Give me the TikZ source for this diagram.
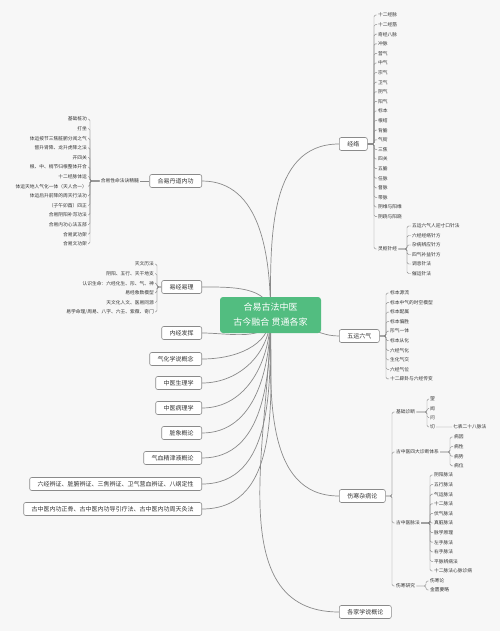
\documentclass[tikz,border=0pt]{standalone}
\usepackage{fontspec}
\setmainfont{Noto Sans CJK SC}
\usetikzlibrary{backgrounds}
\definecolor{bgc}{HTML}{F7F7F7}
\definecolor{lnc}{HTML}{8A8A8A}
\definecolor{rootc}{HTML}{52BD80}
\definecolor{txc}{HTML}{333333}
\pgfdeclarelayer{bgl}\pgfdeclarelayer{lnl}\pgfsetlayers{bgl,lnl,main}
\tikzset{
 rootbox/.style={fill=rootc, rounded corners=3pt, text=white, font=\fontsize{9}{15}\selectfont, align=center, minimum width=101pt, minimum height=36pt, inner sep=0pt},
 mainbox/.style={draw=lnc, line width=0.6pt, fill=white, rounded corners=2pt, text=txc, font=\fontsize{6}{7}\selectfont, inner xsep=8pt, inner ysep=0pt, minimum height=13pt},
 leaf/.style={text=txc, font=\fontsize{4.75}{5.5}\selectfont, inner xsep=1pt, inner ysep=0.5pt},
 leafR/.style={leaf, anchor=west},
 leafL/.style={leaf, anchor=east},
 rootln/.style={draw=lnc, line width=0.7pt},
 subln/.style={draw=lnc, line width=0.45pt, rounded corners=1.5pt},
}
\begin{document}
\begin{tikzpicture}[x=1pt,y=-1pt]
\begin{pgfonlayer}{bgl}
\fill[bgc] (0,0) rectangle (500,631);
\end{pgfonlayer}
\useasboundingbox (0,0) rectangle (500,631);

% root
\node[rootbox] (root) at (270.5,315) {合易古法中医\\古今融合 贯通各家};

% left main nodes
\node[mainbox, anchor=east] (hydd) at (202,181) {合易丹道内功};
\node[mainbox, anchor=east] (yjyl) at (202,287) {易经易理};
\node[mainbox, anchor=east] (njfh) at (202,333) {内经发挥};
\node[mainbox, anchor=east] (qhxs) at (202,359) {气化学说概念};
\node[mainbox, anchor=east] (zysl) at (202,383) {中医生理学};
\node[mainbox, anchor=east] (zybl) at (202,408) {中医病理学};
\node[mainbox, anchor=east] (zxgl) at (202,433) {脏象概论};
\node[mainbox, anchor=east] (qxjj) at (202,458) {气血精津液概论};
\node[mainbox, anchor=east] (ljbz) at (202,484) {六经辨证、脏腑辨证、三焦辨证、卫气营血辨证、八纲定性};
\node[mainbox, anchor=east] (gzyn) at (202,509) {古中医内功正骨、古中医内功导引疗法、古中医内功周天灸法};

% right main nodes
\node[mainbox, anchor=west] (jl) at (339,144) {经络};
\node[mainbox, anchor=west] (wyl) at (339,336) {五运六气};
\node[mainbox, anchor=west] (shz) at (339,496) {伤寒杂病论};
\node[mainbox, anchor=west] (gj) at (339,612) {各家学说概论};

% root connectors
\begin{pgfonlayer}{lnl}
\draw[rootln] (root.center) to[out=90,in=0] (hydd.east);
\draw[rootln] (root.center) to[out=90,in=0] (yjyl.east);
\draw[rootln] (root.center) to[out=270,in=0] (njfh.east);
\draw[rootln] (root.center) to[out=270,in=0] (qhxs.east);
\draw[rootln] (root.center) to[out=270,in=0] (zysl.east);
\draw[rootln] (root.center) to[out=270,in=0] (zybl.east);
\draw[rootln] (root.center) to[out=270,in=0] (zxgl.east);
\draw[rootln] (root.center) to[out=270,in=0] (qxjj.east);
\draw[rootln] (root.center) to[out=270,in=0] (ljbz.east);
\draw[rootln] (root.center) to[out=270,in=0] (gzyn.east);
\draw[rootln] (root.center) to[out=90,in=180] (jl.west);
\draw[rootln] (root.center) to[out=0,in=180] (wyl.west);
\draw[rootln] (root.center) to[out=270,in=180] (shz.west);
\draw[rootln] (root.center) to[out=270,in=180] (gj.west);
\end{pgfonlayer}

% ===== 经络 =====
\coordinate (vjl) at (374,0);
\foreach \t [count=\i from 0] in {十二经脉,十二经筋,奇经八脉,冲脉,营气,中气,宗气,卫气,阴气,阳气,标本,根结,背腧,气街,三焦,四关,五腧,任脉,督脉,带脉,阴维与阳维,阴跷与阳跷}{
  \node[leafR] (jl-\i) at (377,{15+9.6*\i}) {\t};
  \begin{pgfonlayer}{lnl}\draw[subln] (jl.east) -- (jl.east -| vjl) |- (jl-\i.west);\end{pgfonlayer}
}
\node[leafR] (lszj) at (377,249) {灵枢针经};
\begin{pgfonlayer}{lnl}\draw[subln] (jl.east) -- (jl.east -| vjl) |- (lszj.west);\end{pgfonlayer}
\coordinate (vls) at (407,0);
\foreach \t [count=\i from 0] in {五运六气人迎寸口针法,六经经络针方,杂病辨应针方,四气补益针方,调息针法,催运针法}{
  \node[leafR] (ls-\i) at (411,{226+9.5*\i}) {\t};
  \begin{pgfonlayer}{lnl}\draw[subln] (lszj.east) -- (lszj.east -| vls) |- (ls-\i.west);\end{pgfonlayer}
}

% ===== 五运六气 =====
\coordinate (vwy) at (386,0);
\foreach \t [count=\i from 0] in {标本源流,标本中气的时空模型,标本配属,标本偏胜,形气一体,标本从化,六经气化,生化气交,六经气位,十二辟卦与六经传变}{
  \node[leafR] (wy-\i) at (389,{293+9.55*\i}) {\t};
  \begin{pgfonlayer}{lnl}\draw[subln] (wyl.east) -- (wyl.east -| vwy) |- (wy-\i.west);\end{pgfonlayer}
}

% ===== 伤寒杂病论 =====
\coordinate (vsh) at (392,0);
\node[leafR] (jczd) at (395,412) {基础诊断};
\node[leafR] (sdzd) at (395,452) {古中医四大诊断体系};
\node[leafR] (gzmf) at (395,523) {古中医脉法};
\node[leafR] (shyj) at (395,586) {伤寒研究};
\begin{pgfonlayer}{lnl}
\foreach \c in {jczd,sdzd,gzmf,shyj}{\draw[subln] (shz.east) -- (shz.east -| vsh) |- (\c.west);}
\end{pgfonlayer}
\coordinate (vjc) at (427,0);
\foreach \t [count=\i from 0] in {望,闻,问,切}{
  \node[leafR] (jc-\i) at (429,{399+9.33*\i}) {\t};
  \begin{pgfonlayer}{lnl}\draw[subln] (jczd.east) -- (jczd.east -| vjc) |- (jc-\i.west);\end{pgfonlayer}
}
\node[leafR] (qbmf) at (452,427) {七表二十八脉法};
\begin{pgfonlayer}{lnl}\draw[subln] (jc-3.east) -- (qbmf.west);\end{pgfonlayer}
\coordinate (vsd) at (450,0);
\foreach \t [count=\i from 0] in {病因,病性,病势,病位}{
  \node[leafR] (sd-\i) at (453,{437+9.6*\i}) {\t};
  \begin{pgfonlayer}{lnl}\draw[subln] (sdzd.east) -- (sdzd.east -| vsd) |- (sd-\i.west);\end{pgfonlayer}
}
\coordinate (vmf) at (430,0);
\foreach \t [count=\i from 0] in {阴阳脉法,五行脉法,气运脉法,十二脉法,伏气脉法,真脏脉法,脉学原理,左手脉法,右手脉法,平脉辨病法,十二脉法心脉诊病}{
  \node[leafR] (mf-\i) at (433,{475+9.6*\i}) {\t};
  \begin{pgfonlayer}{lnl}\draw[subln] (gzmf.east) -- (gzmf.east -| vmf) |- (mf-\i.west);\end{pgfonlayer}
}
\coordinate (vyj) at (426,0);
\node[leafR] (shl) at (429,581) {伤寒论};
\node[leafR] (jgyl) at (429,590) {金匮要略};
\begin{pgfonlayer}{lnl}
\draw[subln] (shyj.east) -- (shyj.east -| vyj) |- (shl.west);
\draw[subln] (shyj.east) -- (shyj.east -| vyj) |- (jgyl.west);
\end{pgfonlayer}

% ===== 合易丹道内功 =====
\node[leafL] (xmfj) at (140,181) {合易性命法诀精髓};
\begin{pgfonlayer}{lnl}\draw[subln] (hydd.west) -- (xmfj.east);\end{pgfonlayer}
\coordinate (vxm) at (90,0);
\foreach \t [count=\i from 0] in {基础桩功,打坐,体运按节三焦脏腑分阅之气,督升肾降、龙升虎降之法,开四关,根、中、梢节归根整体开合,十二经脉体运,体运天地人气化一体（天人合一）,体运后升前降的周天行法功,（子午卯酉）四正,合易阴阳补泻功法,合易内功心法五部,合易武功架,合易文功架}{
  \node[leafL] (xm-\i) at (88,{119+9.6*\i}) {\t};
  \begin{pgfonlayer}{lnl}\draw[subln] (xmfj.west) -- (xmfj.west -| vxm) |- (xm-\i.east);\end{pgfonlayer}
}

% ===== 易经易理 =====
\coordinate (vyl) at (157,0);
\foreach \t [count=\i from 0] in {天文历法,阴阳、五行、天干地支,认识生命：六经化生、形、气、神,易经象数模型,天文化人文、医易同源,易学命理/周易、八字、六壬、紫薇、奇门}{
  \node[leafL] (yl-\i) at (155,{264+9.6*\i}) {\t};
  \begin{pgfonlayer}{lnl}\draw[subln] (yjyl.west) -- (yjyl.west -| vyl) |- (yl-\i.east);\end{pgfonlayer}
}
\end{tikzpicture}
\end{document}
